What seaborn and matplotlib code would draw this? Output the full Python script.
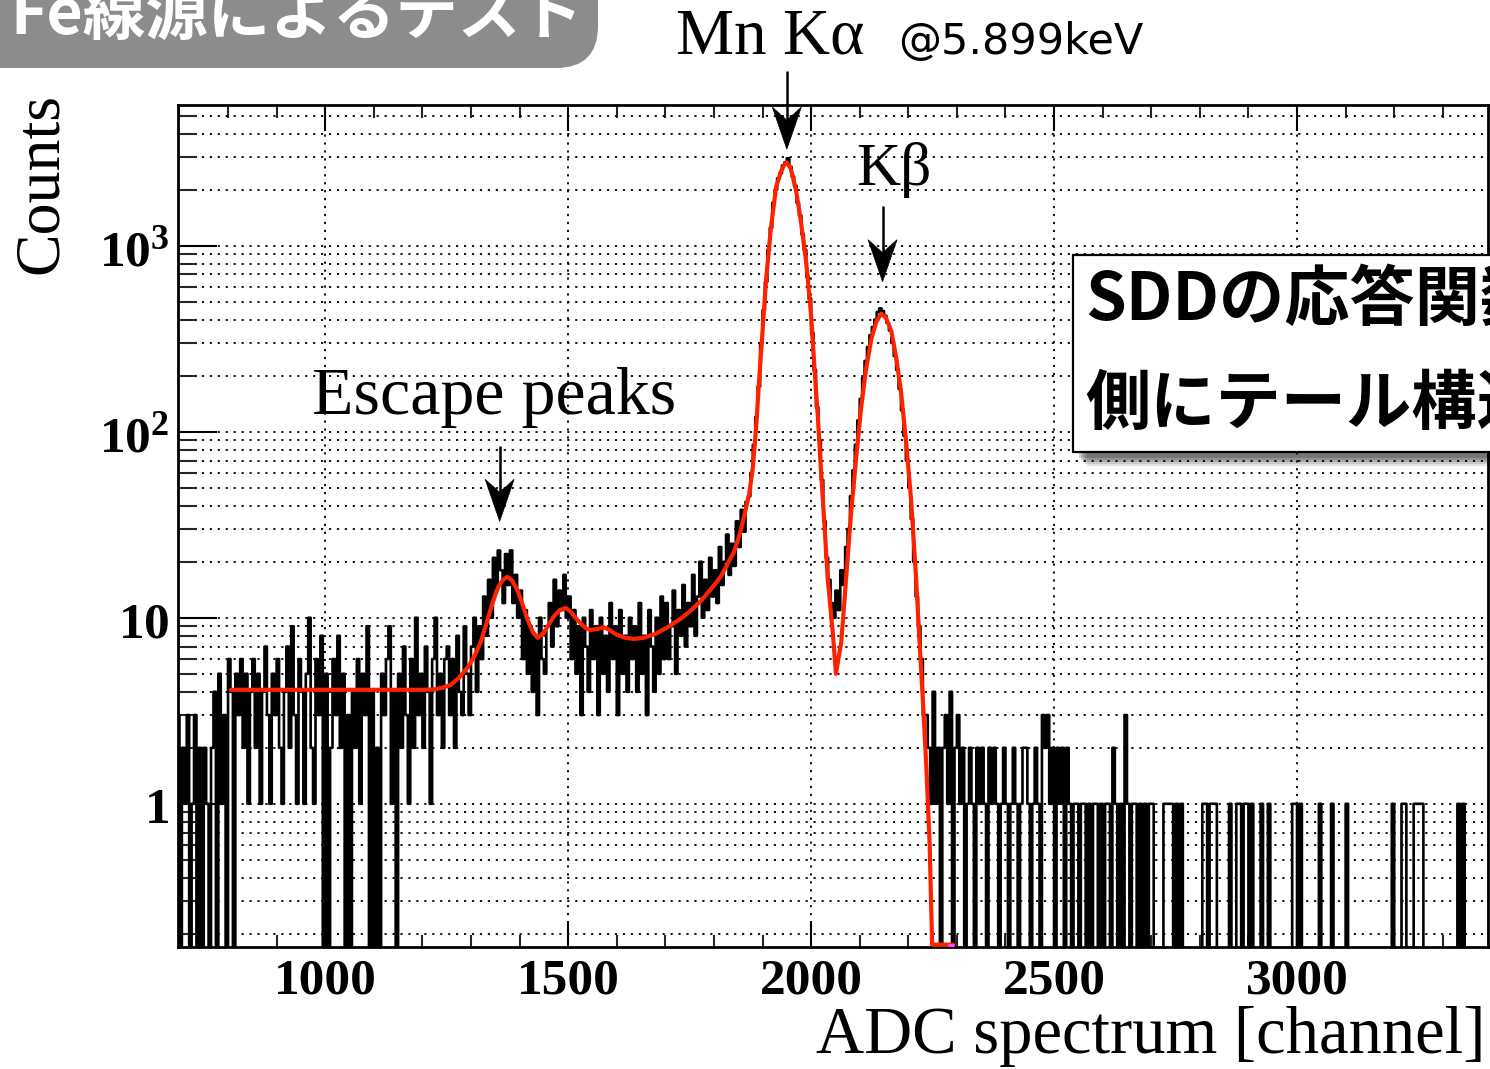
import numpy as np
import pandas as pd
import matplotlib
matplotlib.use("Agg")
import matplotlib.pyplot as plt
import seaborn as sns
from matplotlib.patches import FancyBboxPatch, Rectangle, Polygon
from matplotlib.ticker import FixedLocator, FixedFormatter, LogLocator, NullFormatter, MultipleLocator

# ------------------------------------------------------------------ data
BIN_START = 695      # first bin lower edge [channel]
BIN_WIDTH = 5        # channels per bin

counts_pre = [3, 0, 2, 1, 3, 0, 1, 3, 0, 2,
              0, 2, 1, 0, 2, 4, 0, 5, 1, 3,
              0, 6]                                   # 695 - 800
counts_flat = [4, 0, 5, 3, 6, 2, 5, 1, 4, 6,
               2, 5, 1, 4, 7, 3, 1, 5, 3, 6,
               2, 1, 4, 7, 2, 9, 3, 1, 6, 4,
               1, 5, 10, 2, 1, 6, 3, 8, 0, 5,
               0, 2, 6, 3, 8, 2, 5, 0, 3, 0,
               4, 2, 6, 1, 5, 3, 9, 0, 4, 0,
               2, 0, 5, 3, 6, 9, 1, 4, 0, 5,
               2, 7, 3, 1, 6, 2, 10, 3, 5, 2,
               7, 4, 1, 6, 10, 3, 5, 2, 6]            # 805 - 1245
counts_escape = [7, 3, 6, 2, 8, 4, 3, 9, 5, 3,
                 7, 10, 4, 9, 6, 13, 8, 16, 10, 21,
                 14, 23, 18, 12, 22, 15, 23, 12, 17, 10,
                 14, 6, 11, 5, 9, 4, 8, 3, 10, 6,
                 5, 9, 12, 7, 16, 9, 14, 11, 17, 10,
                 13, 6, 11, 5, 9, 3, 10, 7, 4, 11,
                 6, 9, 3, 10, 5, 8, 4, 12, 6, 9,
                 3, 11, 5, 8, 4, 10, 6, 9, 4, 12,
                 5, 8, 3, 11, 7, 4, 10, 5, 13, 6]     # 1250 - 1695
counts_rise = [12, 6, 9, 14, 5, 11, 8, 15, 7, 12,
               9, 17, 8, 13, 20, 10, 16, 11, 21, 13,
               18, 12, 24, 15, 20, 28, 17, 25, 19, 33,
               24, 38, 29, 42, 45, 60]                # 1700 - 1875
counts_peaks = [85, 120, 175, 300, 450, 640, 950, 1250, 1700, 2000,
                2300, 2450, 2700, 2800, 2950, 2650, 2350, 2100, 1700, 1450,
                1150, 950, 680, 520, 340, 215, 135, 90, 55, 33,
                21, 16, 12, 10, 14, 11, 18, 15, 24, 30,
                45, 62, 85, 115, 150, 195, 240, 285, 330, 365,
                400, 440, 460, 445, 420, 385, 350, 300, 255, 215,
                170, 130, 95, 70, 50, 34, 20, 13, 9, 6,
                3, 3, 2, 1]                            # 1880 - 2245
counts_tail = [4, 1, 2, 0, 2, 3, 1, 4, 0, 2,
               3, 1, 2, 0, 1, 2, 1, 0, 2, 1,
               2, 1, 0, 2, 1, 2, 1, 0, 1, 2,
               1, 0, 1, 2, 1, 0, 1, 2, 2, 1,
               0, 1, 2, 1, 0, 3, 2, 3, 1, 2,
               0, 2, 1, 2, 0, 2, 1, 0, 1, 1,
               0, 1, 1, 0, 1, 0, 1, 1, 0, 1,
               0, 1, 1, 0, 2, 1, 0, 1, 0, 3,
               1, 0, 1, 1, 0, 1, 0, 1, 0, 1,
               1, 0, 0, 0, 0, 1, 1, 1, 1, 0,
               1, 0, 1, 0, 0, 0, 0, 0, 0, 0,
               0, 1, 1, 0, 1, 1, 1, 0, 0, 0,
               0, 0, 1, 0, 0, 1, 1, 0, 1, 1,
               0, 1, 0, 0, 0, 1, 0, 0, 1, 0,
               0, 0, 0, 0, 0, 0, 0, 0, 1, 1,
               0, 1, 0, 0, 0, 0, 0, 0, 0, 1,
               0, 0, 0, 0, 1, 0, 0, 0, 0, 0,
               1, 0, 0, 0, 0, 0, 0, 0, 0, 0,
               0, 0, 0, 0, 0, 0, 0, 0, 0, 1,
               0, 0, 0, 1, 1, 0, 0, 0, 1, 1,
               1, 1, 0, 0, 0, 0, 0, 0, 0, 0,
               0, 0, 0, 0, 0, 0, 1, 0, 1, 0,
               0, 0, 0, 0, 0, 0, 0, 0, 0, 1]        # 2250 - 3395

# fitted response function (red curve)
fit_channel = [806, 900, 1000, 1100, 1200, 1223, 1240, 1258, 1275, 1293,
               1307, 1320, 1330, 1340, 1350, 1357, 1366, 1375, 1385, 1396,
               1406, 1416, 1427, 1437, 1450, 1460, 1471, 1483, 1495, 1505,
               1515, 1526, 1536, 1546, 1560, 1573, 1585, 1600, 1618, 1635,
               1655, 1680, 1705, 1732, 1750, 1773, 1800, 1815, 1828, 1841,
               1849, 1856, 1862, 1868, 1873, 1880, 1887, 1893, 1900, 1907,
               1917, 1928, 1938, 1944, 1950, 1958, 1969, 1979, 1990, 2000,
               2007, 2014, 2020, 2027, 2034, 2045, 2051, 2062, 2068, 2075,
               2082, 2093, 2103, 2113, 2124, 2134, 2144, 2154, 2165, 2175,
               2185, 2196, 2206, 2216, 2223, 2230, 2237, 2244, 2249, 2292]
fit_counts = [4.1, 4.1, 4.1, 4.1, 4.1, 4.12, 4.2, 4.35, 4.75, 5.4,
              6.2, 7.4, 9.0, 11.0, 13.3, 14.8, 16.0, 16.6, 15.8, 14.0,
              11.8, 9.8, 8.4, 7.8, 8.3, 9.2, 10.2, 11.0, 11.3, 10.8,
              10.0, 9.3, 8.8, 8.6, 8.7, 8.9, 8.6, 8.1, 7.8, 7.7,
              7.8, 8.2, 8.9, 9.9, 10.8, 12.3, 14.9, 16.8, 19.5, 22.5,
              26, 30, 35, 41, 47, 64, 107, 189, 347, 640,
              1230, 2070, 2500, 2700, 2800, 2600, 1980, 1350, 810, 420,
              218, 118, 64, 33, 16.4, 8.1, 5.0, 7.4, 11.8, 20.7,
              36, 74, 135, 217, 316, 389, 430, 410, 347, 251,
              164, 85, 42, 16.4, 7.5, 3.6, 1.6, 0.6, 0.175, 0.175]
marker_channel = [2283, 2292]
marker_counts = [0.175, 0.175]

# annotation arrows: tip position in data units
arrow_channel = [1950, 2147, 1359]
arrow_tip_counts = [3300, 640, 33]

x_tick_values = [1000, 1500, 2000, 2500, 3000]
x_tick_labels = ["1000", "1500", "2000", "2500", "3000"]
y_tick_values = [1, 10, 100, 1000]
y_tick_labels = [r"$\mathbf{1}$", r"$\mathbf{10}$", r"$\mathbf{10^{2}}$", r"$\mathbf{10^{3}}$"]

title_text = "Fe線源によるテスト"
peak_label = "Mn Kα"
energy_label = "@5.899keV"
kb_label = "Kβ"
escape_label = "Escape peaks"
box_lines = ["SDDの応答関数", "側にテール構造"]
x_label = "ADC spectrum [channel]"
y_label = "Counts"

# ------------------------------------------------------------------ style
W, H = 1490, 1069
sns.set_theme(style="white")
plt.rcParams["font.family"] = ["DejaVu Sans"]
plt.rcParams["mathtext.fontset"] = "custom"
plt.rcParams["mathtext.rm"] = "Liberation Serif"
plt.rcParams["mathtext.bf"] = "Liberation Serif:bold"
plt.rcParams["mathtext.it"] = "Liberation Serif:italic"

SERIF = ["Liberation Serif", "DejaVu Serif"]
CJK = ["Noto Sans CJK JP", "DejaVu Sans"]

fig = plt.figure(figsize=(W / 100, H / 100), dpi=100, facecolor="white")
ax = fig.add_axes([177.5 / W, 1 - 947 / H, (1488 - 177.5) / W, (947 - 105) / H])
ax.set_facecolor("white")
ax.set_yscale("log")
ax.set_xlim(696, 3393)
ax.set_ylim(0.17, 5700)

# histogram
counts = np.concatenate([counts_pre, counts_flat, counts_escape,
                         counts_rise, counts_peaks, counts_tail]).astype(float)
edges = BIN_START + BIN_WIDTH * np.arange(len(counts) + 1)
yplot = np.where(counts > 0, counts, 1e-2)
hist_df = pd.DataFrame({"channel": edges, "counts": np.append(yplot, yplot[-1])})
sns.lineplot(data=hist_df, x="channel", y="counts", drawstyle="steps-post",
             estimator=None, sort=False, color="black", linewidth=1.9, ax=ax, zorder=2)

fit_df = pd.DataFrame({"channel": fit_channel, "counts": fit_counts})
sns.lineplot(data=fit_df, x="channel", y="counts", estimator=None, sort=False,
             color="#ff2200", linewidth=3.0, ax=ax, zorder=3)
mk_df = pd.DataFrame({"channel": marker_channel, "counts": marker_counts})
sns.lineplot(data=mk_df, x="channel", y="counts", estimator=None, sort=False,
             color="#ff44ff", linewidth=2.2, ax=ax, zorder=4)

ax.set_xlabel("")
ax.set_ylabel("")

# ticks
ax.set_xticks(x_tick_values)
ax.set_xticklabels(x_tick_labels, fontfamily=SERIF, fontweight="bold", fontsize=37)
ax.xaxis.set_minor_locator(MultipleLocator(100))
ax.yaxis.set_major_locator(FixedLocator(y_tick_values))
ax.yaxis.set_major_formatter(FixedFormatter(y_tick_labels))
ax.yaxis.set_minor_locator(LogLocator(base=10, subs=np.arange(2, 10) * 1.0, numticks=40))
ax.yaxis.set_minor_formatter(NullFormatter())
for lab in ax.get_yticklabels():
    lab.set_fontsize(37)
ax.tick_params(axis="x", which="major", direction="in", length=19, width=1.5,
               top=True, bottom=True, pad=8, colors="black")
ax.tick_params(axis="x", which="minor", direction="in", length=9, width=1.5,
               top=True, bottom=True)
ax.tick_params(axis="y", which="major", direction="in", length=28, width=1.5,
               left=True, right=False, pad=6, colors="black")
ax.tick_params(axis="y", which="minor", direction="in", length=14, width=1.5,
               left=True, right=False)

grid_kw = dict(color="black", linestyle=(0, (1.2, 3.2)), linewidth=1.3)
ax.grid(True, which="both", axis="y", **grid_kw)
ax.grid(True, which="major", axis="x", **grid_kw)
ax.set_axisbelow(True)
for sp in ax.spines.values():
    sp.set_visible(True)
    sp.set_color("black")
    sp.set_linewidth(2.0)

# ------------------------------------------------------------------ overlay (pixel coords)
ov = fig.add_axes([0, 0, 1, 1], zorder=10)
ov.set_xlim(0, W)
ov.set_ylim(H, 0)
ov.set_axis_off()


def data_to_px(xc, yc):
    X, Y = ax.transData.transform((xc, yc))
    return X, H - Y


# arrows
shaft_len = [78, 76, 75]
for xc, yc, L in zip(arrow_channel, arrow_tip_counts, shaft_len):
    px, py = data_to_px(xc, yc)
    head_len, half_w, notch = 42, 14.5, 13
    ov.plot([px, px], [py - L, py - head_len + notch + 2], color="black", lw=1.8,
            solid_capstyle="butt")
    ov.add_patch(Polygon([(px, py), (px - half_w, py - head_len),
                          (px, py - head_len + notch), (px + half_w, py - head_len)],
                         closed=True, fc="black", ec="black", lw=0.5))

# peak labels
ov.text(676, 54, peak_label, fontfamily=SERIF, fontsize=47, color="black",
        ha="left", va="baseline")
ov.text(898, 54, energy_label, fontfamily=["DejaVu Sans"], fontsize=31, color="black",
        ha="left", va="baseline")
ov.text(856, 185, kb_label, fontfamily=SERIF, fontsize=44, color="black",
        ha="left", va="baseline")
ov.text(312, 414, escape_label, fontfamily=SERIF, fontsize=49, color="black",
        ha="left", va="baseline")

# axis titles
ov.text(1486, 1053, x_label, fontfamily=SERIF, fontsize=48, color="black",
        ha="right", va="baseline")
ov.text(42, 183, y_label, fontfamily=SERIF, fontsize=46, color="black",
        ha="center", va="center", rotation=90)

# title tab (top-left), partly above the slide edge as in the source
ov.add_patch(FancyBboxPatch((-60, -120), 658, 188,
                            boxstyle="round,pad=0,rounding_size=42",
                            fc="#8c8c8c", ec="none"))
ov.text(10, 34, title_text, fontfamily=CJK, fontsize=45, color="white",
        ha="left", va="baseline", fontweight="bold")

# SDD comment box with soft shadow (runs off the right edge as in the source)
for k, a in enumerate([0.10, 0.12, 0.14, 0.16, 0.18]):
    off = 14 - 2 * k
    ov.add_patch(Rectangle((1073 + off, 255 + off), 500, 197, fc="black",
                           ec="none", alpha=a, zorder=1))
ov.add_patch(Rectangle((1073, 255), 500, 197, fc="white", ec="black", lw=1.6, zorder=2))
ov.text(1085, 300, box_lines[0], fontfamily=CJK, fontsize=47, fontweight="bold",
        color="black", ha="left", va="center", zorder=3)
ov.text(1085, 404, box_lines[1], fontfamily=CJK, fontsize=47, fontweight="bold",
        color="black", ha="left", va="center", zorder=3)

fig.savefig("out.png", dpi=100, facecolor="white")
